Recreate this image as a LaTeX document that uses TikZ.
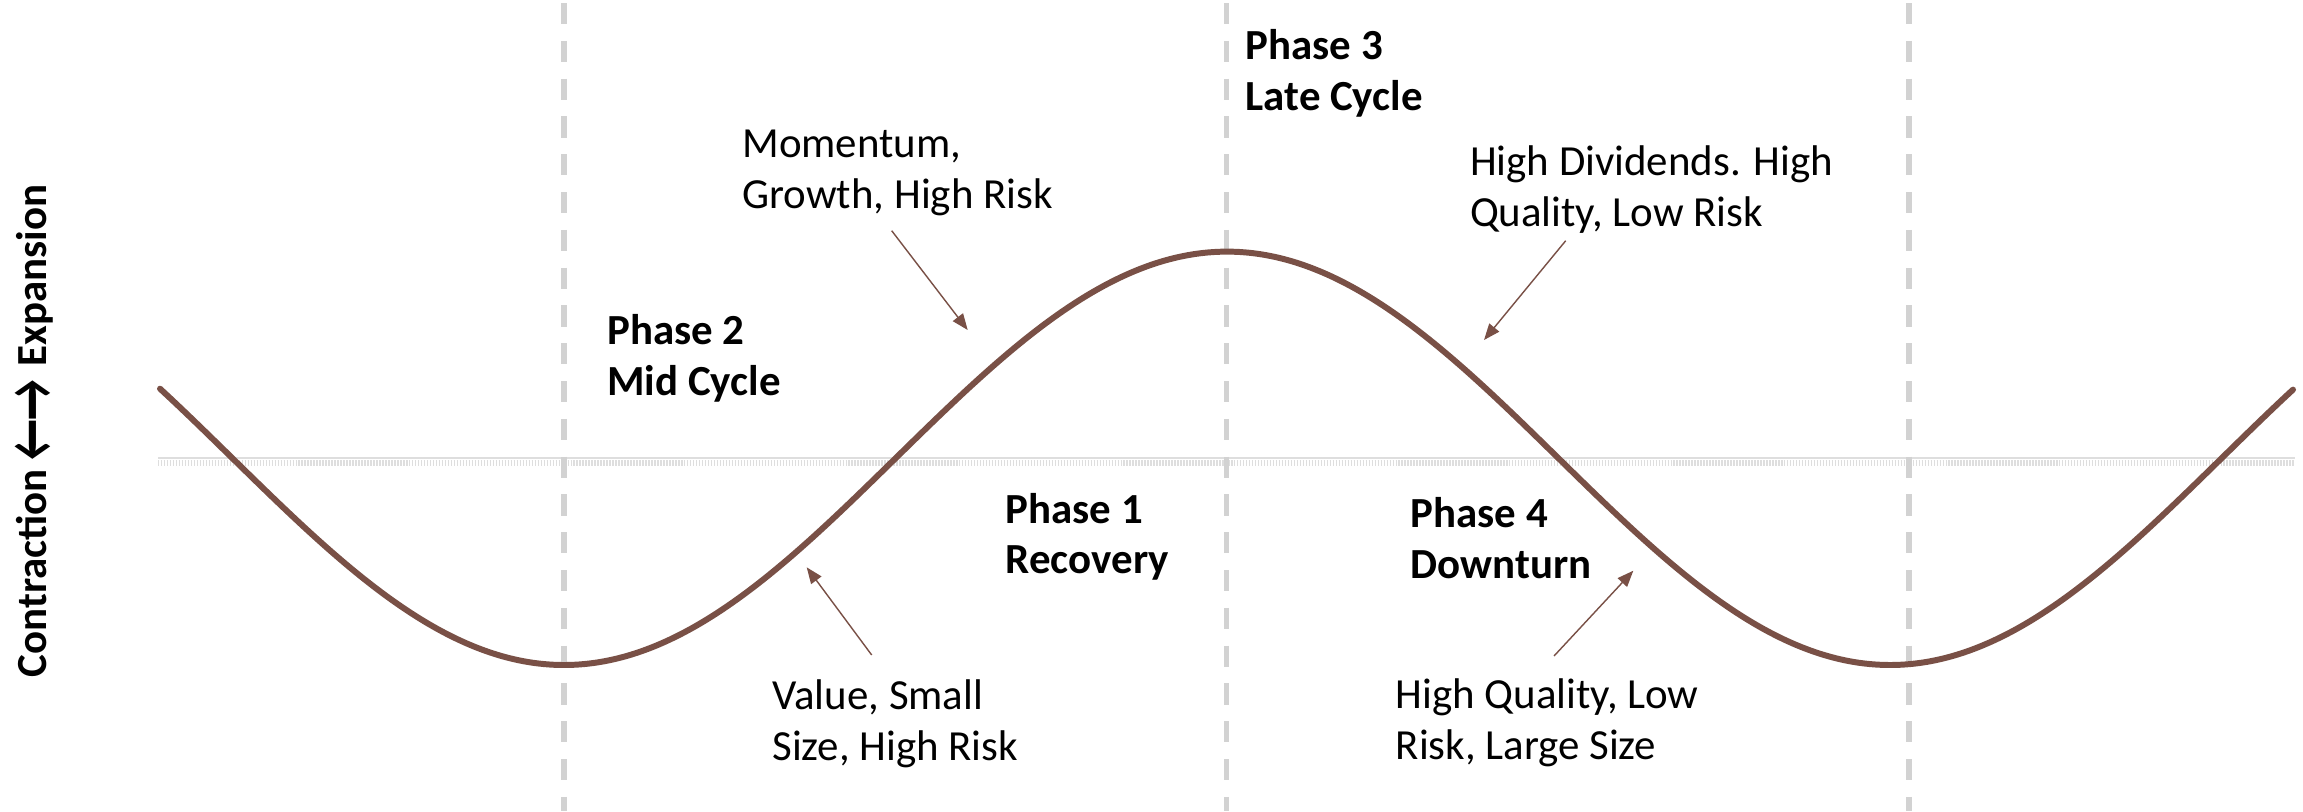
\documentclass[tikz,border=0pt]{standalone}
\usepackage{fontspec}
\setmainfont{Carlito}
\usetikzlibrary{arrows.meta}
\definecolor{curvebrown}{RGB}{121,80,70}
\definecolor{guidegray}{RGB}{210,210,210}
\definecolor{axisgray}{RGB}{222,222,222}
\begin{document}
\begin{tikzpicture}[x=0.01cm,y=-0.01cm,
  guide/.style={guidegray, line width=1.45pt, dash pattern=on 6pt off 4.75pt},
  wave/.style={curvebrown, line width=1.7pt, line cap=round},
  callout/.style={curvebrown, line width=0.4pt, -{Triangle[length=4.6pt,width=3.6pt]}},
  note/.style={font=\fontsize{12.2}{14.5}\selectfont, align=left, anchor=base west, inner sep=0pt},
  phase/.style={note, font=\bfseries\fontsize{12.2}{14.3}\selectfont}]

% canvas
\fill[white] (0,0) rectangle (2303,811);
\useasboundingbox (0,0) rectangle (2303,811);

% zero line: thin rule with a fine comb of ticks below it
\draw[axisgray, line width=0.6pt] (158,458.3) -- (2295,458.3);
\draw[axisgray, line width=1.7pt, dash pattern=on 0.4pt off 0.45pt] (158,462.5) -- (2295,462.5);

% phase boundaries
\draw[guide] (564,3) -- (564,811);
\draw[guide] (1226.7,3) -- (1226.7,811);
\draw[guide] (1909,3) -- (1909,811);

% business cycle wave
\draw[wave] plot[domain=160:2293, samples=240, smooth] (\x,{458.3+206.7*cos((\x-564)/663*180)});

% vertical axis title, with enlarged arrows between the two words
\node[font=\bfseries\fontsize{12.2}{14}\selectfont, rotate=90, anchor=base, inner sep=0pt] (axislabel) at (46,431)
  {Contraction\hspace{0.2em}\raisebox{-0.15em}{\scalebox{1.05}[1.5]{←→}}\hspace{0.3em}Expansion};

% phase titles (placed by the baseline of their last line)
\node[phase] (p1) at (1005,573.3) {Phase 1\\Recovery};
\node[phase] (p2) at (606.6,395) {Phase 2\\Mid Cycle};
\node[phase] (p3) at (1245,110) {Phase 3\\Late Cycle};
\node[phase] (p4) at (1410,578) {Phase 4\\Downturn};

% factor notes
\node[note] (mom) at (741.7,208.3) {Momentum,\\Growth, High Risk};
\node[note] (div) at (1469.3,226) {High Dividends. High\\Quality, Low Risk};
\node[note] (val) at (771.7,760) {Value, Small\\Size, High Risk};
\node[note] (hq) at (1395,759.3) {High Quality, Low\\Risk, Large Size};

% callout arrows from notes to the wave
\coordinate (momA) at (891.7,230.7);
\coordinate (momB) at (967.7,330);
\coordinate (divA) at (1565.7,240.7);
\coordinate (divB) at (1484,340);
\coordinate (valA) at (871.7,655);
\coordinate (valB) at (806.7,567.3);
\coordinate (hqA) at (1554,656);
\coordinate (hqB) at (1633.3,570.7);
\draw[callout] (momA) -- (momB);
\draw[callout] (divA) -- (divB);
\draw[callout] (valA) -- (valB);
\draw[callout] (hqA) -- (hqB);
\end{tikzpicture}
\end{document}
